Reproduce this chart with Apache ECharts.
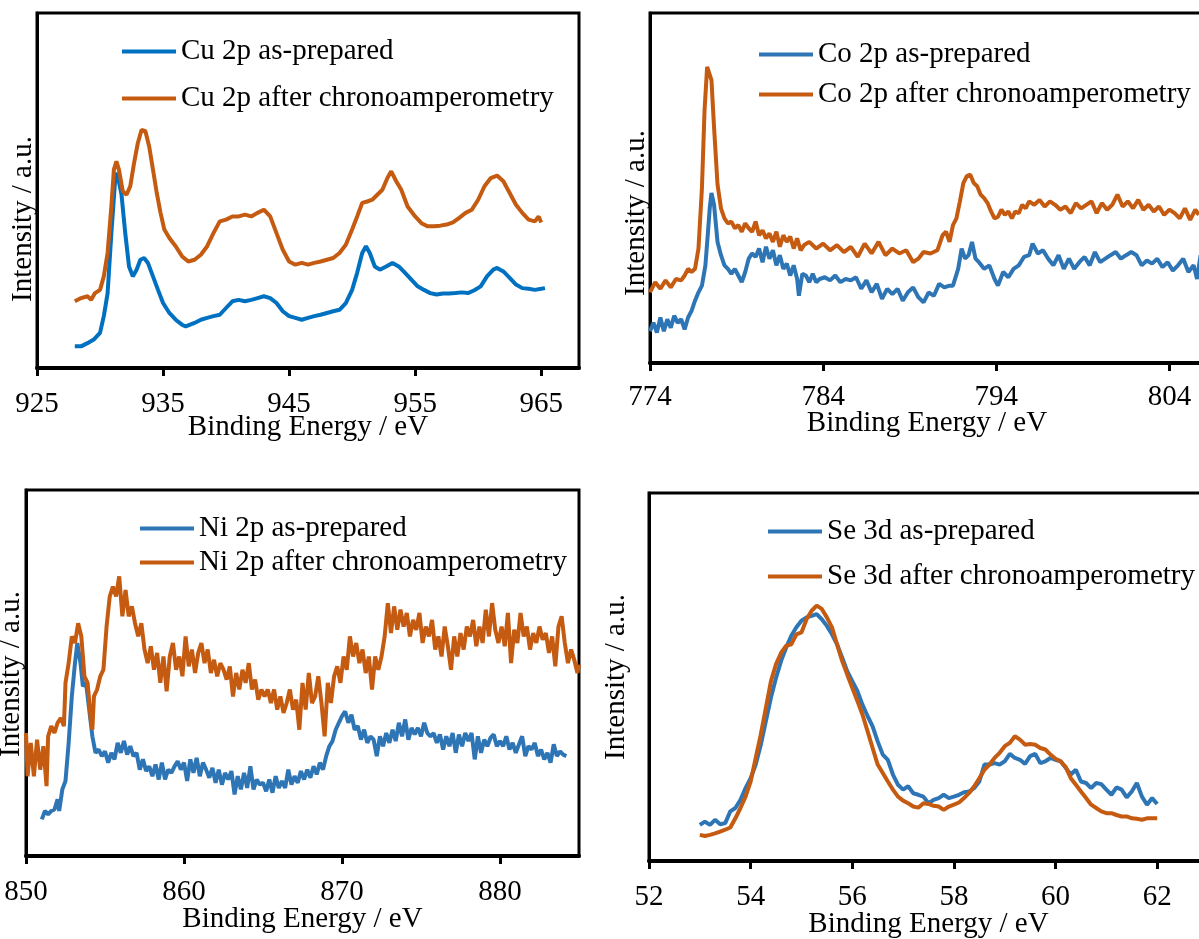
<!DOCTYPE html>
<html>
<head>
<meta charset="utf-8">
<title>XPS spectra</title>
<script src="https://cdn.jsdelivr.net/npm/echarts@6/dist/echarts.min.js"></script>
<style>
  html, body { margin: 0; padding: 0; background: #fff; }
  #chart { width: 1199px; height: 939px; }
</style>
</head>
<body>
<div id="chart"></div>
<script>
// ---- Cu 2p ----
const cuTicks = [925, 935, 945, 955, 965];
const cuPrepared = [
  [928.0,6.1],[928.5,6.1],[929.0,7.0],[929.5,8.0],[930.0,9.9],[930.3,14.6],[930.6,21],[930.9,38],
  [931.2,53],[931.35,55],[931.7,49],[932.0,38],[932.3,28.6],[932.6,25.8],[932.9,27.7],[933.2,30.5],
  [933.5,31],[933.8,29.6],[934.2,25.8],[934.6,22],[935.0,18.3],[935.5,15.5],[936.0,13.6],[936.5,12.2],
  [936.8,11.7],[937.5,12.7],[938.0,13.6],[938.5,14.1],[939.0,14.6],[939.5,15],[940.0,16.9],[940.5,18.8],
  [941.0,19.2],[941.5,18.8],[942.0,19.2],[942.5,19.7],[943.0,20.2],[943.5,19.7],[944.0,18.3],[944.5,16],
  [945.0,14.6],[945.5,14.1],[946.0,13.6],[946.5,14.1],[947.0,14.6],[947.5,15],[948.0,15.5],[948.5,16],
  [949.0,16.4],[949.5,18.3],[950.0,22],[950.4,26.8],[950.8,32.4],[951.1,34.3],[951.4,32.4],[951.8,28.6],
  [952.2,27.7],[952.7,28.6],[953.2,29.6],[953.7,28.6],[954.2,26.8],[954.7,24.9],[955.2,23],[955.7,22],
  [956.2,21.1],[956.7,20.7],[957.2,21],[957.7,21],[958.2,21.1],[958.7,21.3],[959.2,21.1],[959.7,21.9],
  [960.2,23],[960.7,25.8],[961.2,27.7],[961.5,28.2],[962.0,27.2],[962.5,25.4],[963.0,23.5],[963.5,22.5],
  [964.0,22.3],[964.5,22],[965.0,22.3],[965.3,22.5]
];
const cuAfter = [
  [928.0,18.8],[928.5,19.7],[929.0,20.2],[929.3,19.2],[929.6,21.1],[930.0,22],[930.3,25.8],[930.6,32.4],
  [930.9,45.5],[931.1,55.9],[931.3,58.2],[931.5,55.9],[931.8,49.8],[932.1,48.8],[932.4,51.2],[932.7,57.7],
  [933.0,63.4],[933.3,67.1],[933.6,66.7],[933.9,62.4],[934.2,55.9],[934.5,49.3],[934.8,43.7],[935.1,39],
  [935.5,36.6],[936.0,34.3],[936.5,31.5],[937.0,30],[937.5,30.5],[938.0,31.9],[938.5,34.3],[939.0,38],
  [939.5,41.3],[940.0,41.8],[940.5,42.7],[941.0,42.7],[941.5,43.2],[942.0,42.7],[942.5,43.7],[943.0,44.6],
  [943.5,42.7],[944.0,38],[944.5,33.3],[945.0,30],[945.5,29.1],[946.0,29.6],[946.5,29.1],[947.0,29.6],
  [947.5,30],[948.0,30.5],[948.5,31],[949.0,32.4],[949.5,34.7],[950.0,39],[950.4,42.7],[950.8,46.5],
  [951.2,46.9],[951.6,47.4],[952.0,48.8],[952.4,50.2],[952.8,53.5],[953.1,55.4],[953.5,52.6],[953.9,50.2],
  [954.4,45.5],[955.0,42.7],[955.5,40.8],[956.0,39.9],[956.5,39.9],[957.0,40.1],[957.5,40.4],[958.0,41],
  [958.5,42.3],[959.0,43.7],[959.5,44.6],[960.0,47.4],[960.5,51.2],[961.0,53.5],[961.5,54.2],[962.0,52.6],
  [962.5,49.3],[963.0,46],[963.5,43.7],[964.0,41.8],[964.5,41.3],[964.8,42.7],[965.0,41]
];

// ---- Co 2p ----
const coTicks = [774, 784, 794, 804];
const coPrepared = [
  [774.0,9.1],[774.2,11.5],[774.4,8.7],[774.6,13],[774.8,9.1],[775.0,12.5],[775.2,10.1],[775.4,13.5],
  [775.6,11.5],[775.8,12.5],[776.0,9.6],[776.2,13],[776.4,14.9],[776.6,17.8],[776.8,20.2],[777.0,22.1],
  [777.2,27.9],[777.35,37.5],[777.45,44.2],[777.55,48.6],[777.7,45.2],[777.9,34.6],[778.1,30.8],[778.3,27.9],
  [778.5,26.9],[778.7,25.5],[778.9,26.9],[779.1,25],[779.3,23.1],[779.5,26],[779.7,29.8],[779.9,31.3],
  [780.1,30.3],[780.3,32.7],[780.5,28.8],[780.7,33.2],[780.9,29.8],[781.1,32.2],[781.3,27.9],[781.5,30.8],
  [781.7,26.9],[781.9,28.4],[782.1,25],[782.3,27.9],[782.5,24],[782.6,19.2],[782.8,25.5],[783.0,25],
  [783.2,23.1],[783.4,25.5],[783.6,23.1],[783.8,24],[784.1,24.5],[784.4,23.6],[784.7,25],[785.0,23.1],
  [785.3,24],[785.6,23.6],[785.9,24.5],[786.2,21.2],[786.5,23.6],[786.8,20.2],[787.1,22.6],[787.4,18.3],
  [787.7,21.2],[788.0,19.7],[788.3,21.2],[788.6,17.8],[788.9,20.2],[789.2,21.6],[789.5,18.8],[789.8,17.3],
  [790.1,20.2],[790.4,19.2],[790.7,22.6],[791.0,21.6],[791.3,22.1],[791.5,22.1],[791.8,26.9],[792.0,32.7],
  [792.2,29.8],[792.4,30.8],[792.6,34.6],[792.8,29.8],[793.0,28.8],[793.3,26.9],[793.6,27.9],[793.9,24],
  [794.1,22.1],[794.4,26],[794.7,24.5],[795.0,26.9],[795.3,27.9],[795.6,30.3],[795.9,30.8],[796.1,34.1],
  [796.4,31.3],[796.7,32.2],[797.0,29.8],[797.3,27.9],[797.6,30.8],[797.9,26.9],[798.2,29.8],[798.5,26.9],
  [798.8,28.8],[799.1,30.3],[799.4,27.9],[799.7,31.7],[800.0,28.8],[800.3,29.8],[800.6,30.8],[800.9,31.7],
  [801.2,29.8],[801.5,30.8],[801.8,31.7],[802.1,30.8],[802.4,27.9],[802.7,29.3],[803.0,28.4],[803.3,29.8],
  [803.6,27.4],[803.9,28.8],[804.2,26.4],[804.5,27.9],[804.8,29.8],[805.1,26],[805.4,27.9],[805.6,24],
  [805.8,30.8]
];
const coAfter = [
  [774.0,20.2],[774.3,23.1],[774.6,21.2],[774.9,23.6],[775.2,21.6],[775.5,24],[775.8,23.6],[776.0,25],
  [776.2,26.9],[776.4,26],[776.6,26.9],[776.8,32.7],[777.0,50],[777.15,72.1],[777.3,84.6],[777.4,85.1],
  [777.55,80.8],[777.7,67.3],[777.9,51],[778.1,44.2],[778.3,41.3],[778.5,39.9],[778.7,40.4],[778.9,38.5],
  [779.1,39.4],[779.3,37.5],[779.5,39.9],[779.7,38.5],[779.9,37.5],[780.1,40.4],[780.3,36.5],[780.5,37.9],
  [780.7,35.6],[780.9,37],[781.1,34.6],[781.3,37.5],[781.5,33.2],[781.7,36.5],[781.9,34.6],[782.1,36.1],
  [782.3,32.7],[782.5,35.6],[782.7,32.2],[782.9,33.7],[783.2,34.6],[783.6,32.7],[784.0,34.1],[784.4,32.2],
  [784.8,33.7],[785.2,31.7],[785.6,33.2],[786.0,30.3],[786.4,34.1],[786.8,31.3],[787.2,34.6],[787.6,30.8],
  [788.0,32.7],[788.4,31.3],[788.8,32.2],[789.2,28.8],[789.5,29.8],[789.8,31.7],[790.2,31.3],[790.6,32.2],
  [790.9,36.5],[791.1,37.5],[791.3,34.6],[791.5,39.4],[791.7,41.3],[791.9,46.2],[792.1,51.4],[792.3,53.4],
  [792.5,53.8],[792.7,51.4],[792.9,50.5],[793.1,48.1],[793.3,47.1],[793.5,45.7],[793.7,43.3],[793.9,41.3],
  [794.1,41.8],[794.3,43.8],[794.5,42.3],[794.7,43.3],[794.9,41.3],[795.1,43.3],[795.3,42.8],[795.5,45.2],
  [795.7,44.2],[795.9,46.2],[796.2,45.2],[796.5,46.6],[796.8,44.7],[797.1,46.2],[797.4,45.2],[797.7,43.8],
  [798.0,44.7],[798.3,42.8],[798.6,45.7],[798.9,44.2],[799.2,45.2],[799.5,46.2],[799.8,42.8],[800.1,45.7],
  [800.4,43.8],[800.7,45.2],[801.0,48.1],[801.3,44.7],[801.6,46.2],[801.9,44.2],[802.2,46.6],[802.5,43.8],
  [802.8,45.2],[803.1,43.3],[803.4,44.7],[803.7,42.3],[804.0,43.8],[804.3,42.8],[804.6,41.3],[804.9,44.2],
  [805.2,40.9],[805.5,43.8],[805.7,42.3]
];

// ---- Ni 2p ----
const niTicks = [850, 860, 870, 880];
const niPrepared = [
  [851.0,10],[851.2,12.3],[851.4,11.4],[851.6,12.3],[851.8,12.7],[852.0,15.5],[852.1,12.3],[852.3,18.2],
  [852.5,20.5],[852.7,30.9],[852.9,43.6],[853.1,52.7],[853.25,58.2],[853.45,52.7],[853.6,46.4],[853.8,47.3],
  [854.0,40],[854.2,32.7],[854.4,28.2],[854.6,29.1],[854.8,27.3],[855.0,28.6],[855.2,25.5],[855.4,28.2],
  [855.6,26.4],[855.8,30.9],[856.0,28.2],[856.2,31.4],[856.4,27.7],[856.6,30],[856.8,27.3],[857.0,28.2],
  [857.2,23.6],[857.4,26.4],[857.6,23.2],[857.8,24.5],[858.0,21.8],[858.2,25],[858.4,20.9],[858.6,25.5],
  [858.8,20.9],[859.0,23.6],[859.2,22.7],[859.4,24.5],[859.6,25.9],[859.8,23.6],[860.0,25.5],[860.2,20.5],
  [860.4,26.4],[860.6,22.7],[860.8,26.8],[861.0,21.8],[861.2,25.5],[861.4,23.6],[861.6,21.4],[861.8,24.1],
  [862.0,20],[862.2,23.6],[862.4,19.5],[862.6,22.7],[862.8,20.9],[863.0,23.2],[863.2,16.8],[863.4,21.8],
  [863.6,18.2],[863.8,22.7],[864.0,18.6],[864.2,24.5],[864.4,18.2],[864.6,20.9],[864.8,19.5],[865.0,20],
  [865.2,17.7],[865.4,20.9],[865.6,17.3],[865.8,21.8],[866.0,18.6],[866.2,20.5],[866.4,18.6],[866.6,23.6],
  [866.8,19.5],[867.0,21.8],[867.2,20],[867.4,23.2],[867.6,20.9],[867.8,23.6],[868.0,21.4],[868.2,24.5],
  [868.4,22.3],[868.6,25.5],[868.8,23.6],[869.0,27.3],[869.2,30],[869.4,31.4],[869.6,34.5],[869.8,36.4],
  [870.0,38.2],[870.2,39.5],[870.4,36.4],[870.6,38.6],[870.8,34.5],[871.0,35.5],[871.2,31.8],[871.4,34.5],
  [871.6,30.9],[871.8,32.7],[872.0,31.8],[872.2,27.3],[872.4,32.7],[872.6,30],[872.8,33.6],[873.0,30.9],
  [873.2,34.5],[873.4,31.4],[873.6,36.4],[873.8,32.7],[874.0,37.3],[874.2,31.8],[874.4,35],[874.6,33.2],
  [874.8,35],[875.0,32.7],[875.2,36.4],[875.4,33.6],[875.6,32.7],[875.8,33.6],[876.0,30.9],[876.2,33.2],
  [876.4,29.1],[876.6,32.7],[876.8,30],[877.0,33.6],[877.2,28.2],[877.4,33.2],[877.6,30],[877.8,33.6],
  [878.0,31.4],[878.2,33.6],[878.4,26.4],[878.6,32.7],[878.8,28.2],[879.0,31.8],[879.2,30],[879.4,32.3],
  [879.6,33.2],[879.8,30],[880.0,31.4],[880.2,30],[880.4,32.7],[880.6,29.1],[880.8,30.9],[881.0,28.2],
  [881.2,30.5],[881.4,32.7],[881.6,27.3],[881.8,30],[882.0,29.1],[882.2,30.9],[882.4,27.3],[882.6,29.1],
  [882.8,26.4],[883.0,28.2],[883.2,25.5],[883.4,30.5],[883.6,27.3],[883.8,28.6],[884.0,27.7],[884.2,27.3]
];
const niAfter = [
  [850.0,33.6],[850.1,21.8],[850.3,30.9],[850.5,21.8],[850.7,31.8],[850.9,23.6],[851.1,30],[851.3,19.1],
  [851.4,32.7],[851.6,35.5],[851.8,33.6],[852.0,36.4],[852.2,37.7],[852.4,35.5],[852.5,47.3],[852.7,52.7],
  [852.9,60],[853.1,58.2],[853.3,63.6],[853.5,60],[853.7,49.1],[853.9,47.3],[854.1,37.3],[854.2,34.5],
  [854.3,43.6],[854.5,45.5],[854.7,49.1],[854.9,50.9],[855.1,62.7],[855.3,70.9],[855.5,73.6],[855.7,70.9],
  [855.9,76.4],[856.1,65.5],[856.3,72.7],[856.5,65.5],[856.7,68.2],[856.9,63.6],[857.1,60],[857.3,63.6],
  [857.5,56.4],[857.7,52.7],[857.9,57.3],[858.1,50.9],[858.3,55.5],[858.5,47.3],[858.7,54.5],[858.9,45],
  [859.1,54.5],[859.3,58.2],[859.5,50.9],[859.7,54.5],[859.9,49.1],[860.1,60],[860.3,51.8],[860.5,56.4],
  [860.7,50],[860.9,55.5],[861.1,58.2],[861.3,52.7],[861.5,56.4],[861.7,50],[861.9,53.6],[862.1,49.1],
  [862.3,52.7],[862.5,50.9],[862.7,48.2],[862.9,51.8],[863.1,43.6],[863.3,50],[863.5,45.5],[863.7,50.9],
  [863.9,47.3],[864.1,52.7],[864.3,45.5],[864.5,48.2],[864.7,42.7],[864.9,45.5],[865.1,43.6],[865.3,45.5],
  [865.5,41.8],[865.7,45.5],[865.9,40],[866.1,43.6],[866.3,39.1],[866.5,41.8],[866.7,45.5],[866.9,40],
  [867.1,42.7],[867.3,34.5],[867.5,47.3],[867.7,40],[867.9,50],[868.1,41.8],[868.3,43.6],[868.5,49.1],
  [868.7,41.8],[868.9,32.7],[869.1,47.3],[869.3,41.8],[869.5,49.1],[869.7,51.8],[869.9,47.3],[870.1,54.5],
  [870.3,50.9],[870.5,60],[870.7,54.5],[870.9,58.2],[871.1,52.7],[871.3,56.4],[871.5,50],[871.7,54.5],
  [871.9,45.5],[872.1,54.5],[872.3,50.9],[872.5,54.5],[872.7,60],[872.9,69.1],[873.1,60.9],[873.3,68.2],
  [873.5,61.8],[873.7,67.3],[873.9,62.7],[874.1,66.4],[874.3,60],[874.5,64.5],[874.7,61.8],[874.9,66.4],
  [875.1,58.2],[875.3,62.7],[875.5,60],[875.7,64.5],[875.9,56.4],[876.1,60],[876.3,54.5],[876.5,62.7],
  [876.7,57.3],[876.9,50.9],[877.1,60],[877.3,54.5],[877.5,60.9],[877.7,56.4],[877.9,62.7],[878.1,60],
  [878.3,64.5],[878.5,57.3],[878.7,62.7],[878.9,58.2],[879.1,67.3],[879.3,60],[879.5,69.1],[879.7,61.8],
  [879.9,58.2],[880.1,62.7],[880.3,57.3],[880.5,66.4],[880.7,52.7],[880.9,61.8],[881.1,58.2],[881.3,66.4],
  [881.5,60],[881.7,62.7],[881.9,56.4],[882.1,60.9],[882.3,58.2],[882.5,62.7],[882.7,59.1],[882.9,60.9],
  [883.1,55.5],[883.3,60],[883.5,51.8],[883.7,62.7],[883.9,65.5],[884.1,58.2],[884.3,52.7],[884.5,56.4],
  [884.7,53.6],[884.9,50],[885.0,52.3]
];

// ---- Se 3d ----
const seTicks = [52, 54, 56, 58, 60, 62];
const sePrepared = [
  [53.0,9.8],[53.1,10.7],[53.2,9.8],[53.3,11.2],[53.4,10],[53.5,10.3],[53.6,13.5],[53.7,14.4],
  [53.8,16.6],[53.9,19.8],[54.0,22.5],[54.1,26.2],[54.2,31.6],[54.3,38],[54.4,44.4],[54.5,49.8],
  [54.6,54.4],[54.7,58],[54.8,61.2],[54.9,63.5],[55.0,65.3],[55.1,66.2],[55.2,66.6],[55.3,67.1],
  [55.4,65.7],[55.5,63.9],[55.6,61.6],[55.7,58.9],[55.8,55.3],[55.9,51.6],[56.0,48.9],[56.1,46.2],
  [56.2,42.5],[56.3,39.4],[56.4,36.6],[56.5,32.5],[56.6,28.9],[56.7,27.5],[56.8,23.5],[56.9,20.7],
  [57.0,19.4],[57.1,20.3],[57.2,18.4],[57.3,18],[57.4,17.5],[57.5,15.7],[57.6,16.6],[57.7,17.1],
  [57.8,18],[57.9,17.1],[58.0,17.5],[58.1,18],[58.2,18.7],[58.3,18.9],[58.4,19.8],[58.5,21.6],
  [58.6,26.2],[58.7,26.2],[58.8,26.6],[58.9,26.2],[59.0,27.1],[59.1,29.1],[59.2,28],[59.3,27.5],
  [59.4,26.4],[59.5,28.5],[59.6,29.1],[59.7,26.6],[59.8,27.1],[59.9,28],[60.0,27.5],[60.1,27.1],
  [60.2,25.3],[60.3,23.5],[60.4,24.8],[60.5,21.6],[60.6,21.2],[60.7,19.8],[60.8,21.2],[60.9,20.9],
  [61.0,19.4],[61.1,18],[61.2,20],[61.3,19.4],[61.4,17.3],[61.5,18.9],[61.6,21.2],[61.7,17.5],
  [61.8,15.3],[61.9,17.1],[62.0,15.5]
];
const seAfter = [
  [53.0,7.1],[53.1,6.8],[53.2,7.1],[53.3,7.5],[53.4,8],[53.5,8.5],[53.6,9.1],[53.7,11.6],
  [53.8,14.4],[53.9,17.5],[54.0,21.6],[54.1,28],[54.2,34.4],[54.3,41.6],[54.4,48.9],[54.5,53.5],
  [54.6,56.6],[54.7,58.5],[54.8,58.9],[54.9,61.6],[55.0,62.1],[55.1,65.7],[55.2,68],[55.3,69.4],
  [55.4,68.5],[55.5,66.2],[55.6,63.5],[55.7,58.9],[55.8,54.4],[55.9,50.7],[56.0,47.1],[56.1,43.5],
  [56.2,39.8],[56.3,35.3],[56.4,30.7],[56.5,26.2],[56.6,23.9],[56.7,21.6],[56.8,19.4],[56.9,17.5],
  [57.0,16.4],[57.1,15.7],[57.2,14.8],[57.3,14.5],[57.4,15.7],[57.5,15.5],[57.6,15],[57.7,14.8],
  [57.8,13.9],[57.9,14.8],[58.0,15.3],[58.1,15.9],[58.2,17.1],[58.3,18.5],[58.4,20.3],[58.5,22.5],
  [58.6,24.8],[58.7,26.2],[58.8,28],[58.9,29.4],[59.0,31.2],[59.1,32.1],[59.2,33.9],[59.3,33],
  [59.4,31.6],[59.5,31.8],[59.6,31.6],[59.7,30.7],[59.8,30.3],[59.9,28.9],[60.0,27.8],[60.1,27.1],
  [60.2,25.5],[60.3,22.5],[60.4,20.7],[60.5,18.9],[60.6,17.1],[60.7,15.3],[60.8,14.4],[60.9,13.5],
  [61.0,13],[61.1,13],[61.2,12.5],[61.3,12.1],[61.4,12.1],[61.5,11.6],[61.6,11.5],[61.7,11.2],
  [61.8,11.6],[61.9,11.6],[62.0,11.6]
];

const ORANGE = '#C55A11';
const BLUE_CU = '#0070C0';
const BLUE = '#2E75B6';
const FONT = '"Liberation Serif", "Times New Roman", serif';
const FS = 29;

// One panel per element: frame box, bottom energy axis, hidden intensity scale.
const panels = [
  { grid: { left: 37, top: 13, width: 542, height: 355 }, min: 925, max: 968, ticks: cuTicks, nameGap: 45, labelMargin: 22,
    series: [['Cu 2p as-prepared', cuPrepared, BLUE_CU], ['Cu 2p after chronoamperometry', cuAfter, ORANGE]],
    legend: { left: 122, top: 37, itemGap: 18 }, yTitle: [23, 219] },
  { grid: { left: 650, top: 13, width: 554, height: 350 }, min: 774, max: 806, ticks: coTicks, nameGap: 46, labelMargin: 20,
    series: [['Co 2p as-prepared', coPrepared, BLUE], ['Co 2p after chronoamperometry', coAfter, ORANGE]],
    legend: { left: 759, top: 40, itemGap: 11 }, yTitle: [636, 213] },
  { grid: { left: 26, top: 490, width: 553, height: 366 }, min: 850, max: 885, ticks: niTicks, nameGap: 49, labelMargin: 22,
    series: [['Ni 2p as-prepared', niPrepared, BLUE], ['Ni 2p after chronoamperometry', niAfter, ORANGE]],
    legend: { left: 140, top: 514, itemGap: 5 }, yTitle: [11, 674] },
  { grid: { left: 649, top: 493, width: 559, height: 368 }, min: 52, max: 63, ticks: seTicks, nameGap: 49, labelMargin: 22,
    series: [['Se 3d as-prepared', sePrepared, BLUE], ['Se 3d after chronoamperometry', seAfter, ORANGE]],
    legend: { left: 768, top: 517, itemGap: 16 }, yTitle: [616, 677] }
];

const option = {
  animation: false,
  backgroundColor: '#fff',
  grid: [], xAxis: [], yAxis: [], series: [], legend: [], graphic: []
};

panels.forEach((p, i) => {
  option.grid.push(Object.assign({
    show: true, borderColor: '#000', borderWidth: 3, containLabel: false, outerBoundsMode: 'none'
  }, p.grid));
  option.xAxis.push({
    type: 'value', gridIndex: i, min: p.min, max: p.max,
    name: 'Binding Energy / eV', nameLocation: 'middle', nameGap: p.nameGap, nameMoveOverlap: false,
    nameTextStyle: { fontFamily: FONT, fontSize: FS, color: '#000' },
    axisLine: { show: true, onZero: false, lineStyle: { color: '#000', width: 4 } },
    axisTick: { show: true, inside: false, length: 8, customValues: p.ticks, lineStyle: { color: '#000', width: 3 } },
    axisLabel: { show: true, customValues: p.ticks, fontFamily: FONT, fontSize: FS, color: '#000', margin: p.labelMargin },
    splitLine: { show: false }
  });
  option.yAxis.push({
    type: 'value', gridIndex: i, min: 0, max: 100,
    axisLine: { show: true, lineStyle: { color: '#000', width: 3 } },
    axisTick: { show: false }, axisLabel: { show: false }, splitLine: { show: false }
  });
  p.series.forEach(([name, data, color]) => {
    option.series.push({
      name, type: 'line', xAxisIndex: i, yAxisIndex: i, data,
      showSymbol: false, symbol: 'none', clip: true,
      lineStyle: { color, width: 4 }, itemStyle: { color }
    });
  });
  option.legend.push({
    data: p.series.map(s => s[0]), orient: 'vertical', left: p.legend.left, top: p.legend.top,
    padding: 0, itemGap: p.legend.itemGap, itemWidth: 54, itemHeight: 4, icon: 'rect',
    textStyle: { fontFamily: FONT, fontSize: FS, color: '#000', lineHeight: 29, padding: 0 },
    selectedMode: false
  });
  option.graphic.push({
    type: 'text', x: p.yTitle[0], y: p.yTitle[1], rotation: Math.PI / 2,
    style: { text: 'Intensity / a.u.', font: FS + 'px ' + FONT, fill: '#000', align: 'center', verticalAlign: 'middle' }
  });
});

const chart = echarts.init(document.getElementById('chart'), null, { renderer: 'canvas' });
chart.setOption(option);
</script>
</body>
</html>
